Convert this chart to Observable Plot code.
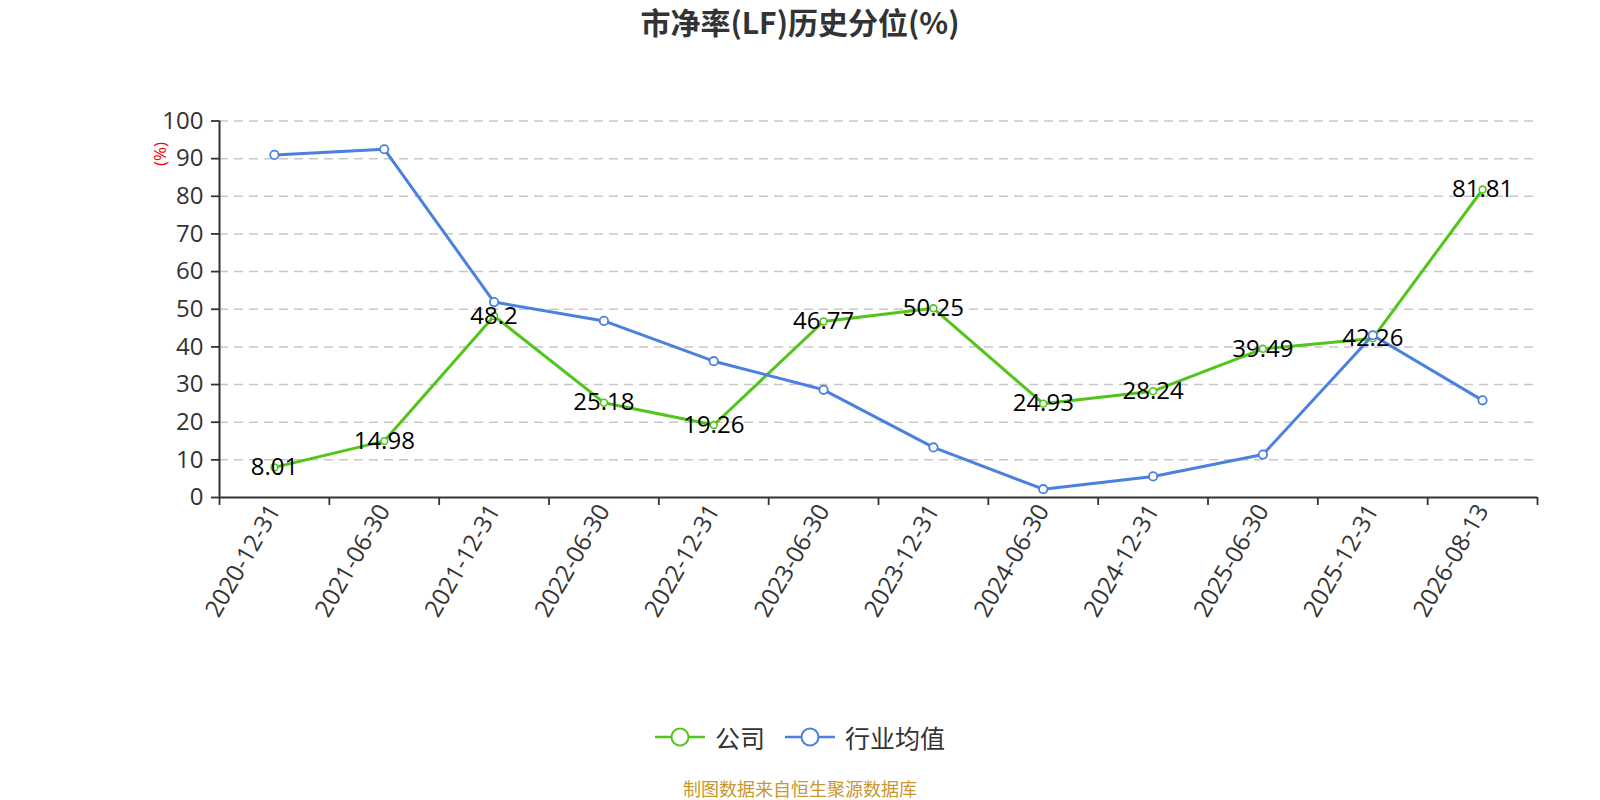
<!DOCTYPE html>
<html><head><meta charset="utf-8">
<script src="https://cdn.jsdelivr.net/npm/d3@7"></script>
<script src="https://cdn.jsdelivr.net/npm/@observablehq/plot@0.6"></script>
<style>
html,body{margin:0;padding:0;background:#fff;overflow:hidden}
#wrap{position:relative;width:1600px;height:800px;overflow:hidden;font-family:"Open Sans","Noto Sans CJK SC",sans-serif}
#title{position:absolute;left:0;top:0;width:1600px;text-align:center;font-family:"Noto Sans CJK SC",sans-serif;font-size:30px;font-weight:bold;color:#333;line-height:42px}
#chart{position:absolute;left:0;top:50px;width:1600px;height:640px}
#chart svg{display:block}
#legend{position:absolute;left:0;top:722px;width:1600px;display:flex;justify-content:center;align-items:center;font-family:"Noto Sans CJK SC",sans-serif;font-size:25px;line-height:30px;color:#333}
#legend .item{display:flex;align-items:center;margin:0 10px}
#legend svg{margin-right:10px}
#caption{position:absolute;left:0;top:778px;width:1600px;text-align:center;font-family:"Noto Sans CJK SC",sans-serif;font-size:18px;line-height:20px;color:#c9962f}
</style></head>
<body>
<div id="wrap">
<div id="title">市净率(LF)历史分位(%)</div>
<div id="chart"></div>
<div id="legend"></div>
<div id="caption">制图数据来自恒生聚源数据库</div>
</div>
<script>
const dates = ["2020-12-31","2021-06-30","2021-12-31","2022-06-30","2022-12-31","2023-06-30","2023-12-31","2024-06-30","2024-12-31","2025-06-30","2025-12-31","2026-08-13"];
const company = [8.01,14.98,48.2,25.18,19.26,46.77,50.25,24.93,28.24,39.49,42.26,81.81];
const industry = [91.0,92.5,51.9,46.9,36.2,28.6,13.3,2.2,5.6,11.4,43.1,25.8];
const seriesNames = ["公司","行业均值"];
const colors = ["#52c41a","#4a80e0"];
const yTicks = d3.range(0,101,10);

const companyData = dates.map((d,i)=>({pos:i+0.5, date:d, value:company[i]}));
const industryData = dates.map((d,i)=>({pos:i+0.5, date:d, value:industry[i]}));

const chart = Plot.plot({
  width:1600, height:640,
  marginLeft:219, marginRight:63, marginTop:70.5, marginBottom:193,
  x:{type:"linear", domain:[0,dates.length]},
  y:{domain:[0,100]},
  style:{fontFamily:'"Open Sans","Noto Sans CJK SC",sans-serif', fontSize:"24px", color:"#333", overflow:"visible"},
  marks:[
    Plot.gridY(yTicks.slice(1), {stroke:"#c8c8c8", strokeOpacity:1, strokeDasharray:"9,6", strokeWidth:1.5}),
    Plot.axisY({ticks:yTicks, tickSize:8, tickPadding:8, fontSize:24, label:null, strokeWidth:1.8, tickFormat:d=>String(d)}),
    Plot.ruleX([0], {stroke:"#333", strokeWidth:2}),
    Plot.ruleY([0], {stroke:"#333", strokeWidth:2}),
    Plot.axisX({ticks:d3.range(0,dates.length+1), tickFormat:()=>"", tickSize:8, label:null, strokeWidth:1.8}),
    Plot.axisX({ticks:d3.range(dates.length).map(i=>i+0.5), tickSize:0, tickPadding:9,
      tickFormat:t=>dates[Math.round(t-0.5)], tickRotate:-60, fontSize:24, label:null}),
    Plot.line(companyData, {x:"pos", y:"value", stroke:colors[0], strokeWidth:3}),
    Plot.dot(companyData, {x:"pos", y:"value", r:3.4, fill:"#fff", stroke:colors[0], strokeWidth:1.6}),
    Plot.line(industryData, {x:"pos", y:"value", stroke:colors[1], strokeWidth:3}),
    Plot.dot(industryData, {x:"pos", y:"value", r:4.2, fill:"#fff", stroke:colors[1], strokeWidth:1.8}),
    Plot.text(companyData, {x:"pos", y:"value", text:d=>String(d.value), fontSize:24, fill:"#000"}),
    Plot.text(["(%)"], {frameAnchor:"top-left", dx:-66, dy:45, rotate:-90, fill:"red", fontSize:17})
  ]
});
document.getElementById("chart").appendChild(chart);

const legend = document.getElementById("legend");
seriesNames.forEach((name,k)=>{
  const item = document.createElement("div");
  item.className = "item";
  item.innerHTML = `<svg width="50" height="24"><line x1="0" x2="50" y1="12" y2="12" stroke="${colors[k]}" stroke-width="2.5"/><circle cx="25" cy="12" r="8.5" fill="#fff" stroke="${colors[k]}" stroke-width="2"/></svg><span>${name}</span>`;
  legend.appendChild(item);
});
</script>
</body></html>
